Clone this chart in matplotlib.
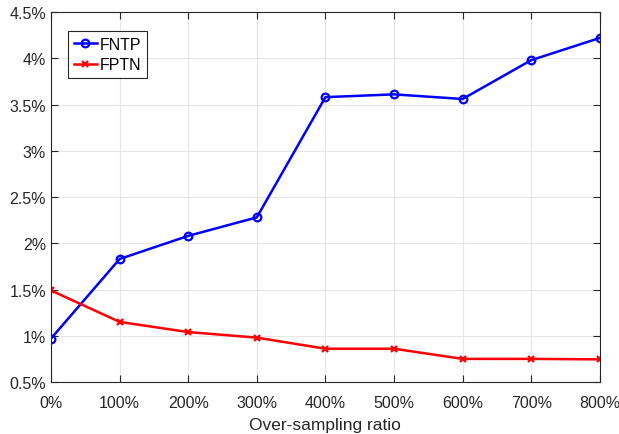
import matplotlib.pyplot as plt
from matplotlib.ticker import FuncFormatter

plt.rcParams['font.family'] = ['Liberation Sans', 'DejaVu Sans']

# Data
ratios = [0, 100, 200, 300, 400, 500, 600, 700, 800]
fntp = [0.97, 1.83, 2.08, 2.28, 3.58, 3.61, 3.56, 3.98, 4.22]
fptn = [1.49, 1.15, 1.04, 0.98, 0.86, 0.86, 0.75, 0.75, 0.745]

fig = plt.figure(figsize=(6.19, 4.35), dpi=100)
ax = fig.add_axes([0.0824, 0.1195, 0.8866, 0.8505])

ax.plot(ratios, fntp, color='blue', linewidth=1.8, marker='o', markersize=5.5,
        markerfacecolor='none', markeredgewidth=1.6, label='FNTP')
ax.plot(ratios, fptn, color='red', linewidth=1.8, marker='x', markersize=5,
        markeredgewidth=1.6, label='FPTN')

ax.set_xlim(0, 800)
ax.set_ylim(0.5, 4.5)
ax.set_xticks(ratios)
ax.set_yticks([0.5 + 0.5 * i for i in range(9)])
ax.xaxis.set_major_formatter(FuncFormatter(lambda v, p: f"{v:g}%"))
ax.yaxis.set_major_formatter(FuncFormatter(lambda v, p: f"{v:g}%"))
ax.tick_params(direction='in', top=True, right=True, labelsize=11.5,
               length=5, width=0.8, color='#262626', labelcolor='#262626')
ax.tick_params(axis='x', pad=9)
ax.grid(True, color='#e6e6e6', linewidth=0.8)
ax.set_axisbelow(True)
for s in ax.spines.values():
    s.set_color('#262626')
    s.set_linewidth(0.8)

ax.set_xlabel("Over-sampling ratio", fontsize=12.5, color='#262626', labelpad=5.5)

leg = ax.legend(loc='upper left', bbox_to_anchor=(0.031, 0.9486), fontsize=11.5,
                fancybox=False, framealpha=1, edgecolor='#262626',
                handlelength=1.45, handletextpad=0.2, borderpad=0.35,
                labelspacing=0.35, borderaxespad=0)
leg.get_frame().set_linewidth(0.8)

fig.savefig("out.png", dpi=100)
